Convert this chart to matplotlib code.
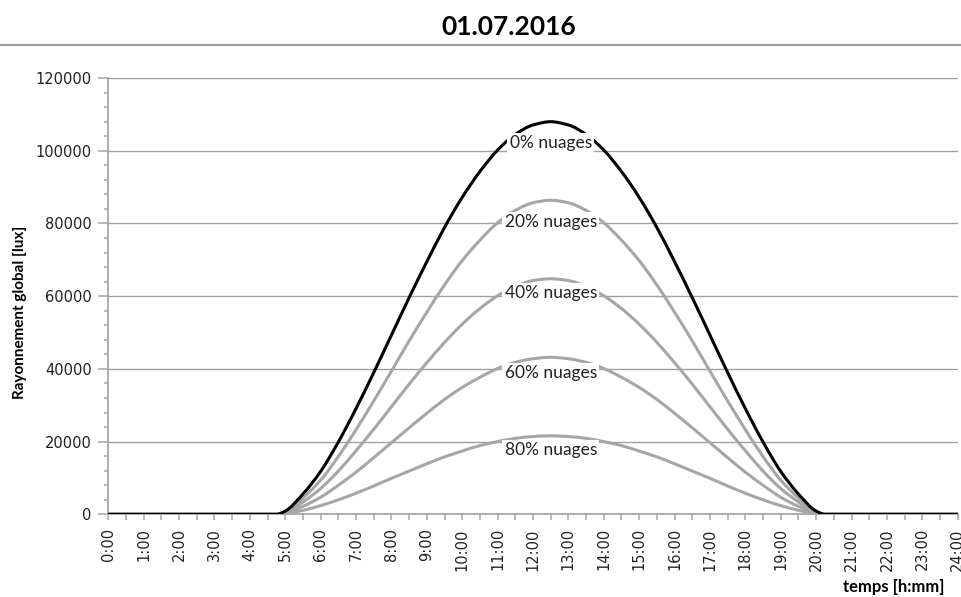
import matplotlib
matplotlib.use("Agg")
import numpy as np
import matplotlib.pyplot as plt
from matplotlib.ticker import MultipleLocator, FuncFormatter
from matplotlib.lines import Line2D
from matplotlib.path import Path
from matplotlib.patches import PathPatch

# ---- data (hours of the day, global radiation in lux) ----
hours = [0, 4.75, 5.0, 5.5, 6.0, 6.5, 7.0, 7.5, 8.0, 8.5, 9.0, 9.5, 10.0, 10.5,
         11.0, 11.5, 12.0, 12.5, 13.0, 13.5, 14.0, 14.5, 15.0, 15.5, 16.0, 16.5,
         17.0, 17.5, 18.0, 18.5, 19.0, 19.5, 20.0, 20.25, 24]

nuages_0 = [0, 0, 900, 5600, 11800, 19900, 29100, 39000, 49300, 59600, 69500, 78900,
            87200, 94300, 100200, 104500, 107100, 108000, 107100, 104500, 100200, 94300,
            87200, 78900, 69500, 59600, 49300, 39000, 29100, 19900, 11800, 5600, 900, 0, 0]
nuages_20 = [0, 0, 700, 4500, 9400, 15900, 23300, 31200, 39400, 47700, 55600, 63100,
             69800, 75400, 80200, 83600, 85700, 86400, 85700, 83600, 80200, 75400,
             69800, 63100, 55600, 47700, 39400, 31200, 23300, 15900, 9400, 4500, 700, 0, 0]
nuages_40 = [0, 0, 500, 3400, 7100, 11900, 17500, 23400, 29600, 35800, 41700, 47300,
             52300, 56600, 60100, 62700, 64300, 64800, 64300, 62700, 60100, 56600,
             52300, 47300, 41700, 35800, 29600, 23400, 17500, 11900, 7100, 3400, 500, 0, 0]
nuages_60 = [0, 0, 400, 2200, 4700, 8000, 11600, 15600, 19700, 23800, 27800, 31600,
             34900, 37700, 40100, 41800, 42800, 43200, 42800, 41800, 40100, 37700,
             34900, 31600, 27800, 23800, 19700, 15600, 11600, 8000, 4700, 2200, 400, 0, 0]
nuages_80 = [0, 0, 200, 1100, 2400, 4000, 5800, 7800, 9900, 11900, 13900, 15800,
             17400, 18900, 20000, 20900, 21400, 21600, 21400, 20900, 20000, 18900,
             17400, 15800, 13900, 11900, 9900, 7800, 5800, 4000, 2400, 1100, 200, 0, 0]

labels = ["0% nuages", "20% nuages", "40% nuages", "60% nuages", "80% nuages"]
label_x = 12.5
label_y = [102200, 80500, 60800, 38800, 17700]

title = "01.07.2016"
ylabel = "Rayonnement global [lux]"
xlabel = "temps [h:mm]"


def smooth_path(xs, ys):
    """Smoothed line through the data points (cubic Bezier segments, like a
    spreadsheet 'smoothed line'), using monotone Hermite tangents."""
    x = np.asarray(xs, float)
    y = np.asarray(ys, float)
    h = np.diff(x)
    d = np.diff(y) / h
    m = np.zeros_like(y)
    for i in range(1, len(x) - 1):
        if d[i - 1] * d[i] > 0:
            w1 = 2 * h[i] + h[i - 1]
            w2 = h[i] + 2 * h[i - 1]
            m[i] = (w1 + w2) / (w1 / d[i - 1] + w2 / d[i])
    verts = [(x[0], y[0])]
    codes = [Path.MOVETO]
    for i in range(len(x) - 1):
        verts += [(x[i] + h[i] / 3, y[i] + m[i] * h[i] / 3),
                  (x[i + 1] - h[i] / 3, y[i + 1] - m[i + 1] * h[i] / 3),
                  (x[i + 1], y[i + 1])]
        codes += [Path.CURVE4] * 3
    return Path(verts, codes)


# ---- figure ----
fig = plt.figure(figsize=(9.62, 5.97), dpi=100)
ax = fig.add_axes([0.1126, 0.1385, 0.8829, 0.7307])

grey = "#a6a6a6"
for vals in [nuages_80, nuages_60, nuages_40, nuages_20]:
    ax.add_patch(PathPatch(smooth_path(hours, vals), fill=False, edgecolor=grey,
                           lw=2.2, capstyle="round", joinstyle="round", zorder=3))
ax.add_patch(PathPatch(smooth_path(hours, nuages_0), fill=False, edgecolor="black",
                       lw=2.2, capstyle="round", joinstyle="round", zorder=4))

for txt, yv in zip(labels, label_y):
    ax.text(label_x, yv, txt, ha="center", va="center", fontsize=12.5,
            family="Lato", color="#222222", zorder=6,
            bbox=dict(facecolor="white", edgecolor="none", pad=1.5))

ax.set_xlim(0, 24)
ax.set_ylim(0, 120000)
ax.xaxis.set_major_locator(MultipleLocator(1))
ax.xaxis.set_minor_locator(MultipleLocator(0.5))
ax.xaxis.set_major_formatter(FuncFormatter(lambda v, p: f"{int(round(v))}:00"))
ax.yaxis.set_major_locator(MultipleLocator(20000))
ax.yaxis.set_minor_locator(MultipleLocator(4000))
ax.yaxis.set_major_formatter(FuncFormatter(lambda v, p: f"{int(v)}"))

ax.yaxis.grid(True, which="major", color="#a0a0a0", lw=1.0, zorder=1)
ax.set_axisbelow(True)

for s in ["top", "right"]:
    ax.spines[s].set_visible(False)
for s in ["left", "bottom"]:
    ax.spines[s].set_color(grey)
    ax.spines[s].set_linewidth(1.3)
    ax.spines[s].set_zorder(2)

ax.tick_params(axis="x", which="both", direction="out", length=4, width=1.1,
               color=grey, pad=6, labelsize=10.5, rotation=90)
ax.tick_params(axis="y", which="major", direction="out", length=7, width=1.1,
               color=grey, pad=5, labelsize=10.5)
ax.tick_params(axis="y", which="minor", direction="out", length=3, width=1.1,
               color=grey)
for lab in ax.get_xticklabels() + ax.get_yticklabels():
    lab.set_family("DejaVu Sans")
    lab.set_color("#222222")

fig.text(0.529, 0.955, title, ha="center", va="center", fontsize=19,
         fontweight="bold", family="Lato", color="black")
fig.add_artist(Line2D([0, 1], [0.9246, 0.9246], transform=fig.transFigure,
                      color="#a0a0a0", lw=1.5))

fig.text(0.021, 0.477, ylabel, rotation=90, ha="center", va="center",
         fontsize=11, fontweight="bold", family="Lato", color="black")
fig.text(0.9815, 0.003, xlabel, ha="right", va="bottom",
         fontsize=12, fontweight="bold", family="Lato", color="black")

fig.savefig("out.png", dpi=100, facecolor="white")
